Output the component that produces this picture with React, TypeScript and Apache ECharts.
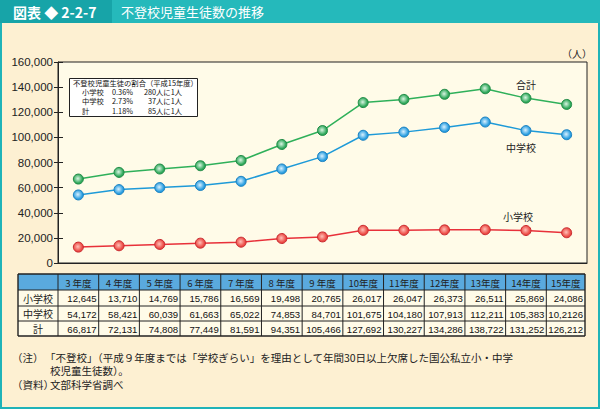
import React, { useEffect, useRef } from "react";
import * as echarts from "echarts";

const years = ["3 年度", "4 年度", "5 年度", "6 年度", "7 年度", "8 年度", "9 年度", "10年度", "11年度", "12年度", "13年度", "14年度", "15年度"];
const elementary = [12645, 13710, 14769, 15786, 16569, 19498, 20765, 26017, 26047, 26373, 26511, 25869, 24086];
const juniorHigh = [54172, 58421, 60039, 61663, 65022, 74853, 84701, 101675, 104180, 107913, 112211, 105383, 102126];
const total = [66817, 72131, 74808, 77449, 81591, 94351, 105466, 127692, 130227, 134286, 138722, 131252, 126212];
const yTicks = [0, 20000, 40000, 60000, 80000, 100000, 120000, 140000, 160000];
const rowNames = ["小学校", "中学校", "計"];
// the printed table has a typo for this cell
const tableOverrides: Record<string, string> = { "1-12": "10,2126" };
const ratioRows = [
  ["小学校", "0.36%", "280人に1人"],
  ["中学校", "2.73%", "37人に1人"],
  ["計", "1.18%", "85人に1人"],
];

const JP = '"Noto Sans CJK JP", "Noto Sans", sans-serif';
const NUM = '"Liberation Sans", Arial, sans-serif';

const GL = 58, GR = 587, GT = 62, GB = 263;

function fmt(n: number) {
  return n.toLocaleString("en-US");
}

function marker(c0: string, c1: string) {
  return {
    type: "radial", x: 0.45, y: 0.45, r: 0.6,
    colorStops: [{ offset: 0, color: c0 }, { offset: 0.75, color: c1 }, { offset: 1, color: c1 }],
  };
}

export default function App() {
  const ref = useRef<HTMLDivElement>(null);
  useEffect(() => {
    document.body.style.margin = "0";
    const chart = echarts.init(ref.current!, null, { renderer: "svg" });
    const colW = (GR - GL) / years.length;
    const graphics: any[] = [];
    // page panel
    graphics.push({ type: "rect", z: -10, shape: { x: 1, y: 22, width: 598, height: 386 }, style: { fill: "#fdf0d2", stroke: "#1fb3b8", lineWidth: 2 } });
    // title bar
    graphics.push({ type: "rect", shape: { x: 0, y: 0, width: 600, height: 23 }, style: { fill: "#25b9bb" } });
    graphics.push({ type: "rect", shape: { x: 0, y: 0, width: 112, height: 23 }, style: { fill: "#17a4a8" } });
    graphics.push({ type: "text", x: 13, y: 11.5, style: { text: "図表 ◆ 2-2-7", fill: "#fff", font: `bold 14px ${JP}`, verticalAlign: "middle" } });
    graphics.push({ type: "text", x: 121, y: 11.5, style: { text: "不登校児童生徒数の推移", fill: "#fff", font: `13px ${JP}`, verticalAlign: "middle" } });
    // unit
    graphics.push({ type: "text", x: 577, y: 53, style: { text: "（人）", fill: "#222", font: `10px ${JP}`, align: "center", verticalAlign: "middle" } });
    // series labels
    graphics.push({ type: "text", x: 526, y: 84, style: { text: "合計", fill: "#222", font: `10px ${JP}`, align: "center", verticalAlign: "middle" } });
    graphics.push({ type: "text", x: 521, y: 147, style: { text: "中学校", fill: "#222", font: `10px ${JP}`, align: "center", verticalAlign: "middle" } });
    graphics.push({ type: "text", x: 518, y: 216, style: { text: "小学校", fill: "#222", font: `10px ${JP}`, align: "center", verticalAlign: "middle" } });
    // ratio box
    graphics.push({ type: "rect", shape: { x: 69.5, y: 78.5, width: 128, height: 38 }, style: { fill: "#fff", stroke: "#222", lineWidth: 1 } });
    graphics.push({ type: "text", x: 73, y: 83, style: { text: "不登校児童生徒の割合（平成15年度）", fill: "#111", font: `7.3px ${JP}`, verticalAlign: "middle" } });
    ratioRows.forEach((r, i) => {
      const y = 92 + i * 9.3;
      graphics.push({ type: "text", x: 82, y, style: { text: r[0], fill: "#111", font: `7.3px ${JP}`, verticalAlign: "middle" } });
      graphics.push({ type: "text", x: 112, y, style: { text: r[1], fill: "#111", font: `7.3px ${JP}`, verticalAlign: "middle" } });
      graphics.push({ type: "text", x: 182, y, style: { text: r[2], fill: "#111", font: `7.3px ${JP}`, verticalAlign: "middle", align: "right" } });
    });
    // table
    const tTop = 274, rowYs = [274, 290, 306, 321, 336];
    const tLeft = 18;
    graphics.push({ type: "rect", shape: { x: tLeft, y: tTop, width: GR - 2 - tLeft, height: 16 }, style: { fill: "#5aaade" } });
    graphics.push({ type: "rect", shape: { x: tLeft, y: 290, width: GR - 2 - tLeft, height: 46 }, style: { fill: "#fffbe8" } });
    const xs: number[] = [tLeft];
    for (let i = 0; i <= years.length; i++) xs.push(GL + i * colW - (i === years.length ? 2 : 0));
    rowYs.forEach((y, i) => {
      graphics.push({ type: "line", shape: { x1: tLeft, y1: y, x2: xs[xs.length - 1], y2: y }, style: { stroke: "#222", lineWidth: i === 0 || i === rowYs.length - 1 ? 1.4 : 1 } });
    });
    xs.forEach((x, i) => {
      graphics.push({ type: "line", shape: { x1: x, y1: tTop, x2: x, y2: 336 }, style: { stroke: "#222", lineWidth: i === 0 || i === xs.length - 1 ? 1.4 : 1 } });
    });
    years.forEach((yr, i) => {
      graphics.push({ type: "text", x: (xs[i + 1] + xs[i + 2]) / 2, y: 282.5, style: { text: yr, fill: "#222", font: `9.5px ${JP}`, align: "center", verticalAlign: "middle" } });
    });
    const rowsData = [elementary, juniorHigh, total];
    rowsData.forEach((arr, r) => {
      const yc = (rowYs[r + 1] + rowYs[r + 2]) / 2;
      graphics.push({ type: "text", x: (xs[0] + xs[1]) / 2, y: yc, style: { text: rowNames[r], fill: "#222", font: `10px ${JP}`, align: "center", verticalAlign: "middle" } });
      arr.forEach((v, i) => {
        const label = tableOverrides[`${r}-${i}`] ?? fmt(v);
        graphics.push({ type: "text", x: xs[i + 2] - 2, y: yc + 0.5, style: { text: label, fill: "#111", font: `9.6px ${NUM}`, align: "right", verticalAlign: "middle" } });
      });
    });
    // footnotes
    const fnFont = `10.5px ${JP}`;
    graphics.push({ type: "text", x: 12, y: 357, style: { text: "（注）", fill: "#222", font: fnFont, verticalAlign: "middle" } });
    graphics.push({ type: "text", x: 45, y: 357, style: { text: "「不登校」（平成９年度までは「学校ぎらい」を理由として年間30日以上欠席した国公私立小・中学", fill: "#222", font: fnFont, verticalAlign: "middle" } });
    graphics.push({ type: "text", x: 50, y: 370.5, style: { text: "校児童生徒数）。", fill: "#222", font: fnFont, verticalAlign: "middle" } });
    graphics.push({ type: "text", x: 12, y: 384.5, style: { text: "（資料）", fill: "#222", font: fnFont, verticalAlign: "middle" } });
    graphics.push({ type: "text", x: 50, y: 384.5, style: { text: "文部科学省調べ", fill: "#222", font: fnFont, verticalAlign: "middle" } });

    const mkSeries = (name: string, data: number[], line: string, c0: string, c1: string, border: string) => ({
      name, type: "line", data, symbol: "circle", symbolSize: 10,
      lineStyle: { color: line, width: 1.5 },
      itemStyle: { color: marker(c0, c1), borderColor: border, borderWidth: 1 },
      z: 5,
    });

    chart.setOption({
      animation: false,
      backgroundColor: "#fdf0d2",
      grid: { left: GL, right: 600 - GR, top: GT, bottom: 409 - GB, show: true, backgroundColor: "#fffbe8", borderColor: "#222", borderWidth: 1 },
      xAxis: {
        type: "category", data: years, boundaryGap: true,
        axisLine: { lineStyle: { color: "#222" } },
        axisTick: { inside: true, length: 5, lineStyle: { color: "#222" } },
        axisLabel: { show: false },
      },
      yAxis: [
        {
          type: "value", min: yTicks[0], max: yTicks[yTicks.length - 1], interval: 20000,
          axisLine: { show: true, lineStyle: { color: "#222" } },
          axisTick: { show: true, length: 4, lineStyle: { color: "#222" } },
          splitLine: { show: false },
          axisLabel: { color: "#222", fontSize: 11.5, fontFamily: NUM, margin: 5, formatter: (v: number) => fmt(v) },
        },
        {
          type: "value", min: yTicks[0], max: yTicks[yTicks.length - 1], interval: 20000, position: "left",
          axisLine: { show: false },
          axisTick: { show: true, inside: true, length: 5, lineStyle: { color: "#222" } },
          splitLine: { show: false },
          axisLabel: { show: false },
        },
      ],
      series: [
        mkSeries("合計", total, "#2fb05a", "#d9f4e2", "#2fa85a", "#1f8a45"),
        mkSeries("中学校", juniorHigh, "#1e9ad8", "#d8f0ff", "#2a9ee0", "#1a80c0"),
        mkSeries("小学校", elementary, "#e8303a", "#ffc0b8", "#ec4a44", "#c8282e"),
      ],
      graphic: graphics,
    });
    return () => chart.dispose();
  }, []);
  return <div ref={ref} style={{ width: 600, height: 409 }} />;
}
